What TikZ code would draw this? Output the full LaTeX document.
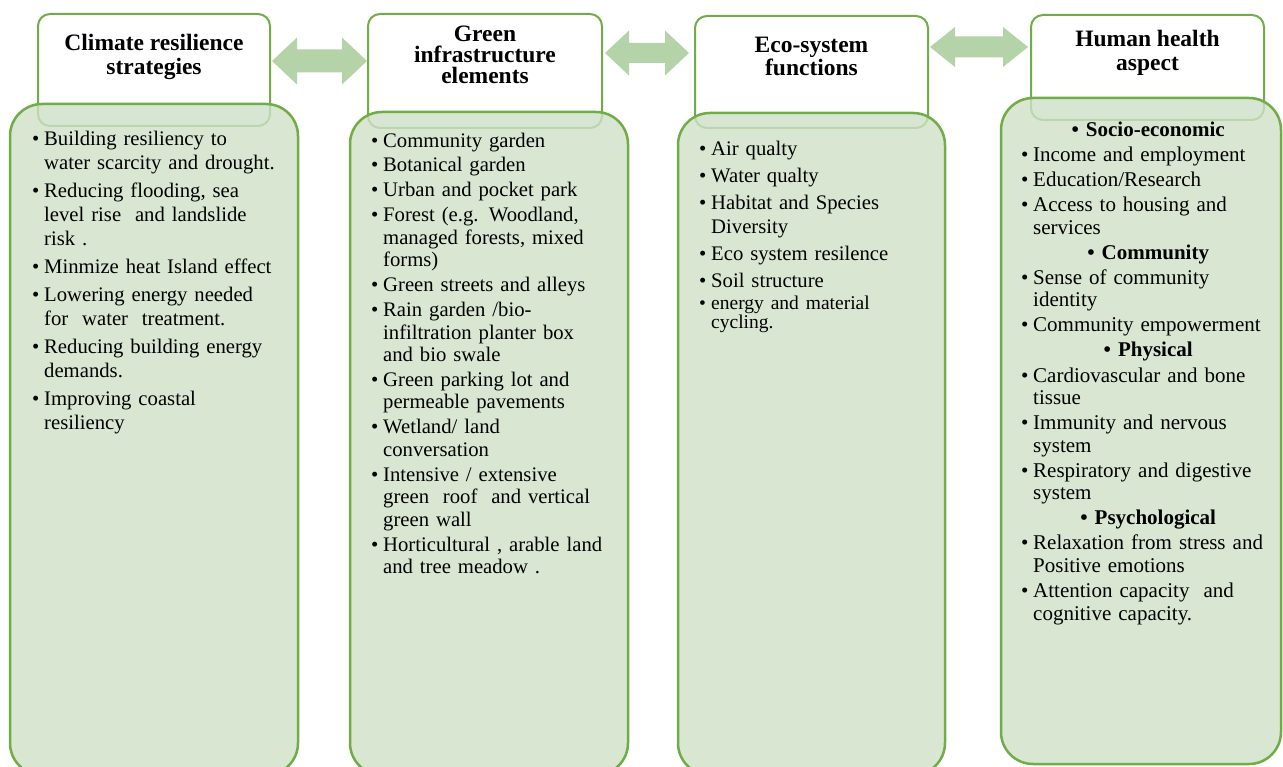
\documentclass[tikz,border=0pt]{standalone}
\usepackage{fontspec}
\setmainfont{Liberation Serif}
\usetikzlibrary{calc}
\definecolor{gborder}{RGB}{112,173,71}
\definecolor{gfill}{RGB}{206,224,199}
\definecolor{garrow}{RGB}{181,211,168}
\newcommand\itm[1]{\par\noindent\hangindent=12pt\hangafter=1\makebox[12pt][l]{•}#1}
\newcommand\hd[1]{\par{\centering\bfseries •~#1\par}}
\newcommand\dblarrow[5]{%
  \fill[arrowfill] (#1) -- ($(#1)+(#3,-#4)$) -- ($(#1)+(#3,-#5)$) -- ($(#2)+(-#3,-#5)$)
    -- ($(#2)+(-#3,-#4)$) -- (#2) -- ($(#2)+(-#3,#4)$) -- ($(#2)+(-#3,#5)$)
    -- ($(#1)+(#3,#5)$) -- ($(#1)+(#3,#4)$) -- cycle;}
\tikzset{
  header/.style={draw=gborder, line width=2pt, fill=white, rounded corners=12pt,
    anchor=north west, outer sep=0pt, inner sep=0pt},
  greenbox/.style={draw=gborder, line width=2.5pt, fill=gfill, fill opacity=0.8,
    draw opacity=1, rounded corners=32pt, anchor=north west, outer sep=0pt, inner sep=0pt},
  title/.style={anchor=north, inner sep=0pt, align=center, text=black},
  body/.style={anchor=north west, inner sep=0pt, align=left, text=black},
  arrowfill/.style={fill=garrow}
}
\begin{document}
\begin{tikzpicture}[x=1pt,y=-1pt]
\useasboundingbox (0,0) rectangle (1283,767);
\clip (0,0) rectangle (1283,767);
% headers
\node[header, minimum width=232pt, minimum height=112pt] (h1) at (38,14) {};
\node[header, minimum width=234pt, minimum height=114pt] (h2) at (368,14) {};
\node[header, minimum width=233pt, minimum height=112pt] (h3) at (695,16) {};
\node[header, minimum width=233pt, minimum height=105pt] (h4) at (1031,15) {};
% green boxes
\node[greenbox, minimum width=288pt, minimum height=671pt] (g1) at (10,104) {};
\node[greenbox, minimum width=278pt, minimum height=663pt] (g2) at (350,112) {};
\node[greenbox, minimum width=267pt, minimum height=662pt] (g3) at (678,113) {};
\node[greenbox, minimum width=280pt, minimum height=666pt] (g4) at (1001,98) {};
% titles
\node[title, font=\bfseries\fontsize{23.5}{24}\selectfont] (t1) at ([yshift=-18pt]h1.north)
  {\rule{0pt}{18pt}Climate resilience\\strategies};
\node[title, font=\bfseries\fontsize{23.5}{21}\selectfont] (t2) at ([yshift=-9pt]h2.north)
  {\rule{0pt}{18pt}Green\\infrastructure\\elements};
\node[title, font=\bfseries\fontsize{23.5}{23.5}\selectfont] (t3) at ([yshift=-18pt]h3.north)
  {\rule{0pt}{18pt}Eco-system\\functions};
\node[title, font=\bfseries\fontsize{23.5}{24}\selectfont] (t4) at ([yshift=-13pt]h4.north)
  {\rule{0pt}{18pt}Human health\\aspect};
% arrows
\coordinate (a1l) at ([xshift=2pt,yshift=9pt]h1.east);
\coordinate (a1r) at ([xshift=-1pt,yshift=10pt]h2.west);
\coordinate (a2l) at ([xshift=3pt,yshift=18pt]h2.east);
\coordinate (a2r) at ([xshift=-6pt,yshift=19pt]h3.west);
\coordinate (a3l) at ([xshift=2pt,yshift=25pt]h3.east);
\coordinate (a3r) at ([xshift=-3pt,yshift=20.5pt]h4.west);
\dblarrow{a1l}{a1r}{25}{23.5}{11.5}
\dblarrow{a2l}{a2r}{24}{22.5}{10}
\dblarrow{a3l}{a3r}{25}{20}{10.5}
% body texts
\node[body, text width=262pt, font=\fontsize{20.7}{24}\selectfont] (b1) at (32,117) {%
\setlength{\parskip}{4pt}%
\itm{\rule{0pt}{16pt}Building resiliency to\newline water scarcity and drought.}
\itm{Reducing flooding, sea\newline level rise\ \ and landslide\newline risk .}
\itm{Minmize heat Island effect}
\itm{Lowering energy needed\newline for\ \ water\ \ treatment.}
\itm{Reducing building energy\newline demands.}
\itm{Improving coastal\newline resiliency}\par};
\node[body, text width=252pt, font=\fontsize{20.7}{22.5}\selectfont] (b2) at (371,122) {%
\setlength{\parskip}{2.4pt}%
\itm{\rule{0pt}{16pt}Community garden}
\itm{Botanical garden}
\itm{Urban and pocket park}
\itm{Forest (e.g. Woodland,\newline managed forests, mixed\newline forms)}
\itm{Green streets and alleys}
\itm{Rain garden /bio-\newline infiltration planter box\newline and bio swale}
\itm{Green parking lot and\newline permeable pavements}
\itm{Wetland/ land\newline conversation}
\itm{Intensive / extensive\newline green\ \ roof\ \ and vertical\newline green wall}
\itm{Horticultural , arable land\newline and tree meadow .}\par};
\node[body, text width=242pt, font=\fontsize{20.7}{24}\selectfont] (b3) at (699,128) {%
\setlength{\parskip}{3pt}%
\itm{\rule{0pt}{16pt}Air qualty}
\itm{Water qualty}
\itm{Habitat and Species\newline Diversity}
\itm{Eco system resilence}
\itm{Soil structure}
\par\vspace{0pt}{\fontsize{19.5}{19}\selectfont
\itm{energy and material\newline cycling.}\par}};
\node[body, text width=254pt, font=\fontsize{21}{22.5}\selectfont] (b4) at (1021,111) {%
\setlength{\parskip}{2.6pt}%
\hd{\rule{0pt}{16pt}Socio-economic}
\itm{Income and employment}
\itm{Education/Research}
\itm{Access to housing and\newline services}
\hd{Community}
\itm{Sense of community\newline identity}
\itm{Community empowerment}
\hd{Physical}
\itm{Cardiovascular and bone\newline tissue}
\itm{Immunity and nervous\newline system}
\itm{Respiratory and digestive\newline system}
\hd{Psychological}
\itm{Relaxation from stress and\newline Positive emotions}
\itm{Attention capacity\ \ and\newline cognitive capacity.}\par};
\end{tikzpicture}
\end{document}
